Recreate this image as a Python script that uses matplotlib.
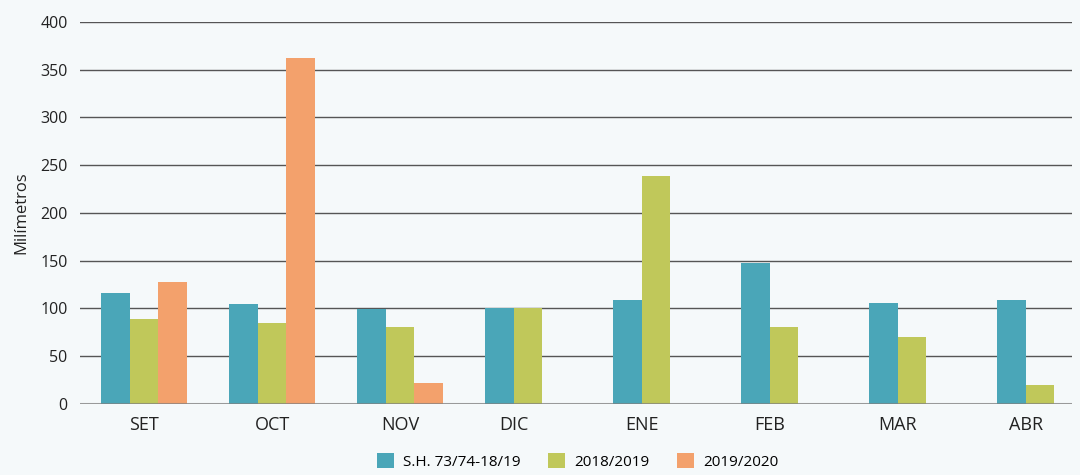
import numpy as np
import matplotlib
matplotlib.use('Agg')
import matplotlib.pyplot as plt

months = ['SET', 'OCT', 'NOV', 'DIC', 'ENE', 'FEB', 'MAR', 'ABR']
historico = [116, 105, 99, 101, 109, 148, 106, 109]
campana_1819 = [89, 85, 81, 101, 239, 81, 70, 20]
campana_1920 = [128, 362, 22, np.nan, np.nan, np.nan, np.nan, np.nan]

series = [
    ('S.H. 73/74-18/19', historico, '#4aa6b8'),
    ('2018/2019', campana_1819, '#c0c85a'),
    ('2019/2020', campana_1920, '#f3a16c'),
]

bg = '#f5f9fa'
plt.rcParams['font.family'] = ['Open Sans', 'DejaVu Sans']

fig = plt.figure(figsize=(10.8, 4.75), dpi=100, facecolor=bg)
ax = fig.add_axes([0.0741, 0.1495, 0.9185, 0.8042], facecolor=bg)

width = 0.223
x = np.arange(len(months))
offsets = [-0.5, 0.5, 1.5]

for (name, vals, color), off in zip(series, offsets):
    vals = np.array(vals, dtype=float)
    mask = ~np.isnan(vals)
    ax.bar(x[mask] + off * width, vals[mask], width, color=color, label=name, zorder=2)

# label centred under the bars that exist in each month
ticks = []
for i in range(len(months)):
    present = [off for (_, vals, _), off in zip(series, offsets) if not np.isnan(vals[i])]
    ticks.append(i + np.mean(present) * width)

ax.set_xticks(ticks)
ax.set_xticklabels(months, fontsize=13, color='#222222')
ax.set_xlim(-0.39, 7.36)
ax.set_ylim(0, 400)
ax.set_yticks(np.arange(0, 401, 50))
ax.tick_params(axis='y', length=0, pad=9, labelsize=11.5, labelcolor='#222222')
ax.tick_params(axis='x', length=0, pad=9)
ax.set_ylabel('Milímetros', fontsize=12, color='#222222', labelpad=8)

ax.yaxis.grid(True, color='#555555', linewidth=1.0, zorder=1)
ax.set_axisbelow(True)
ax.axhline(0, color='#808080', alpha=0.7, linewidth=2.2, zorder=3)
for s in ax.spines.values():
    s.set_visible(False)

fig.legend(loc='center', bbox_to_anchor=(0.535, 0.028), ncol=3, frameon=False,
           fontsize=11, handlelength=1.1, handleheight=1.1, handletextpad=0.6,
           columnspacing=1.8)

fig.savefig('out.png', dpi=100, facecolor=bg)
